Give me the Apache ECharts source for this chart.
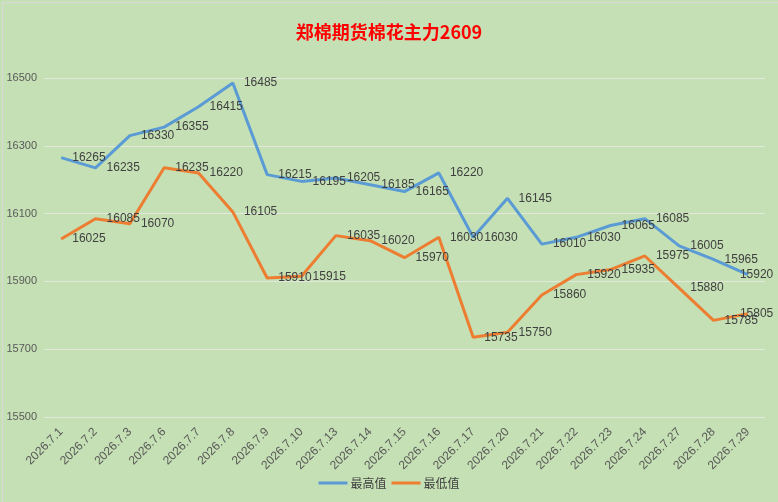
<!DOCTYPE html>
<html>
<head>
<meta charset="utf-8">
<script src="https://cdn.jsdelivr.net/npm/echarts@6/dist/echarts.min.js"></script>
<style>
  html, body { margin: 0; padding: 0; background: #C5E0B4; }
  #chart { width: 778px; height: 502px; }
</style>
</head>
<body>
<div id="chart"></div>
<script>
// 郑棉期货棉花主力2609 daily high / low
const categories = ['2026.7.1','2026.7.2','2026.7.3','2026.7.6','2026.7.7','2026.7.8','2026.7.9','2026.7.10',
  '2026.7.13','2026.7.14','2026.7.15','2026.7.16','2026.7.17','2026.7.20','2026.7.21','2026.7.22',
  '2026.7.23','2026.7.24','2026.7.27','2026.7.28','2026.7.29'];
const highValues = [16265,16235,16330,16355,16415,16485,16215,16195,16205,16185,16165,16220,16030,16145,
  16010,16030,16065,16085,16005,15965,15920];
const lowValues = [16025,16085,16070,16235,16220,16105,15910,15915,16035,16020,15970,16030,15735,15750,
  15860,15920,15935,15975,15880,15785,15805];
const yTicks = { min: 15500, max: 16500, step: 200 };

(function(){
  const el = document.getElementById('chart');
  const chart = echarts.init(el);
  const labelStyle = { show: true, position: 'right', distance: 11, color: '#404040',
    fontSize: 12, fontFamily: 'Liberation Sans, Arial, sans-serif' };
  // the last labels are pulled back inside the chart, like the original
  const withLabels = vals => vals.map((v, i) =>
    i === vals.length - 1 ? { value: v, label: { offset: [-19, 0] } } : v);
  chart.setOption({
    backgroundColor: '#C5E0B4',
    animation: false,
    title: {
      text: '郑棉期货棉花主力2609',
      left: 'center', top: 18,
      textStyle: { color: '#FF0000', fontSize: 18, fontWeight: 'bold',
        fontFamily: '"Noto Sans CJK SC", sans-serif' }
    },
    graphic: [{
      type: 'rect', left: 0, top: 0,
      shape: { width: 777, height: 501 },
      style: { fill: 'none', stroke: '#D9D9D9', lineWidth: 1 },
      silent: true
    }],
    legend: {
      bottom: 8, left: 'center',
      itemWidth: 29, itemHeight: 3, itemGap: 5,
      icon: 'rect',
      textStyle: { color: '#404040', fontSize: 12, padding: [0, 0, 0, -2],
        fontFamily: '"Noto Sans CJK SC", sans-serif' },
      data: ['最高值', '最低值']
    },
    grid: { left: 44, right: 13, top: 78, bottom: 85 },
    xAxis: {
      type: 'category', data: categories, boundaryGap: true,
      axisLine: { show: false }, axisTick: { show: false },
      axisLabel: { rotate: 45, interval: 0, color: '#595959', fontSize: 12, margin: 13,
        fontFamily: 'Liberation Sans, Arial, sans-serif' }
    },
    yAxis: {
      type: 'value', min: yTicks.min, max: yTicks.max, interval: yTicks.step,
      axisLine: { show: false }, axisTick: { show: false },
      axisLabel: { color: '#595959', fontSize: 11, margin: 7,
        formatter: v => String(v),
        fontFamily: 'Liberation Sans, Arial, sans-serif' },
      splitLine: { lineStyle: { color: '#E2E8DC', width: 1 } }
    },
    series: [
      { name: '最高值', type: 'line', data: withLabels(highValues), symbol: 'circle', symbolSize: 0.1,
        showSymbol: true,
        lineStyle: { width: 3, color: '#5B9BD5' }, itemStyle: { color: '#5B9BD5' },
        label: labelStyle },
      { name: '最低值', type: 'line', data: withLabels(lowValues), symbol: 'circle', symbolSize: 0.1,
        showSymbol: true,
        lineStyle: { width: 3, color: '#ED7D31' }, itemStyle: { color: '#ED7D31' },
        label: labelStyle }
    ]
  });
})();
</script>
</body>
</html>
